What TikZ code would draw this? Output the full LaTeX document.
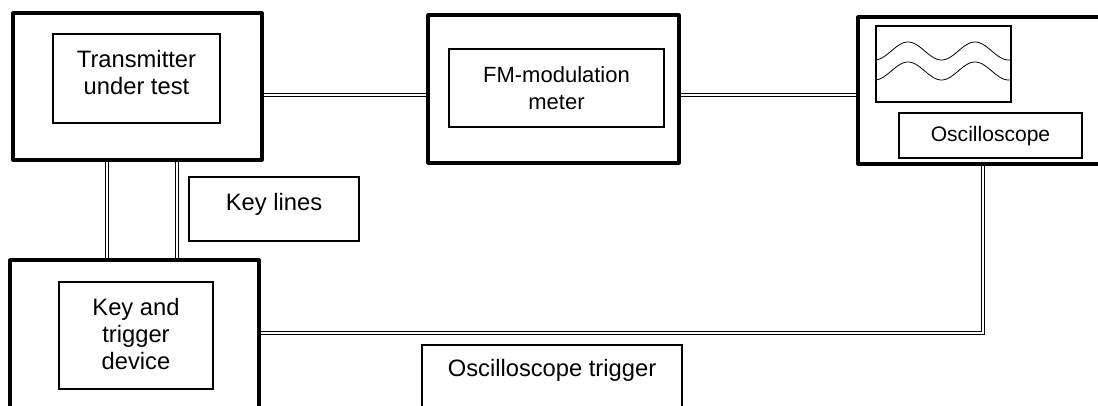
\documentclass[tikz,border=0pt]{standalone}
\usepackage{fontspec}
\setmainfont{Liberation Sans}
\usetikzlibrary{fit}
\begin{document}
\begin{tikzpicture}[x=0.75pt,y=-0.75pt,
  outerbox/.style={draw, line width=2.4pt, line join=round, inner sep=0pt},
  innerbox/.style={draw, line width=1.3pt, inner sep=0pt},
  labelbox/.style={draw, line width=1.1pt, inner sep=0pt},
  txtA/.style={font=\fontsize{17.8}{20.25}\selectfont, align=center, inner sep=0pt},
  txtB/.style={font=\fontsize{16.5}{20.25}\selectfont, align=center, inner sep=0pt},
  txtC/.style={font=\fontsize{15.8}{20}\selectfont, align=center, inner sep=0pt},
  conn/.style={draw, line width=0.7pt, double=white, double distance=0.9pt},
  wave/.style={draw, line width=0.6pt, domain=876:1011, samples=90, smooth}]
\useasboundingbox (0,0) rectangle (1098,405);
% outer boxes
\node[outerbox, fit={(13,13) (262,160)}] (tx) {};
\node[outerbox, fit={(428,15) (679,163)}] (fm) {};
\node[outerbox, fit={(858,17) (1104,164)}] (osc) {};
\node[outerbox, fit={(10,260) (259,414)}] (kt) {};
% inner boxes
\node[innerbox, fit={(53,34) (220,123)}] (txi) {};
\node[txtA] (txt) at (136.5,73) {Transmitter\\under test};
\node[innerbox, fit={(449,49) (664,127)}] (fmi) {};
\node[txtB] (fmt) at (556.5,88) {FM-modulation\\meter};
\node[innerbox, fit={(59,282) (213,389)}] (kti) {};
\node[txtA] (ktt) at (136,334) {Key and\\trigger\\device};
% oscilloscope screen
\node[innerbox, fit={(876,26) (1011,102)}] (scr) {};
\draw[wave] plot (\x, {51 - 9*cos(5.3731*(\x-908))});
\draw[wave] plot (\x, {71 - 9*cos(5.3731*(\x-908))});
\node[labelbox, fit={(899,113) (1082,158)}] (oscl) {};
\node[txtC] (osct) at (990.5,136) {Oscilloscope};
% label boxes
\node[labelbox, fit={(189,177) (359,241)}] (kl) {};
\node[txtA] (klt) at (274,204) {Key lines};
\node[labelbox, fit={(422,345) (682,414)}] (ot) {};
\node[txtA] (ott) at (552,370) {Oscilloscope trigger};
% connectors
\coordinate (c1) at (0,95);
\draw[conn] (tx.east |- c1) -- (fm.west |- c1);
\draw[conn] (fm.east |- c1) -- (osc.west |- c1);
\coordinate (k1) at (107,0);
\coordinate (k2) at (177,0);
\draw[conn] (tx.south -| k1) -- (kt.north -| k1);
\draw[conn] (tx.south -| k2) -- (kt.north -| k2);
\coordinate (bend) at (983,333);
\draw[conn] (osc.south -| bend) -- (bend) -- (kt.east |- bend);
\end{tikzpicture}
\end{document}
